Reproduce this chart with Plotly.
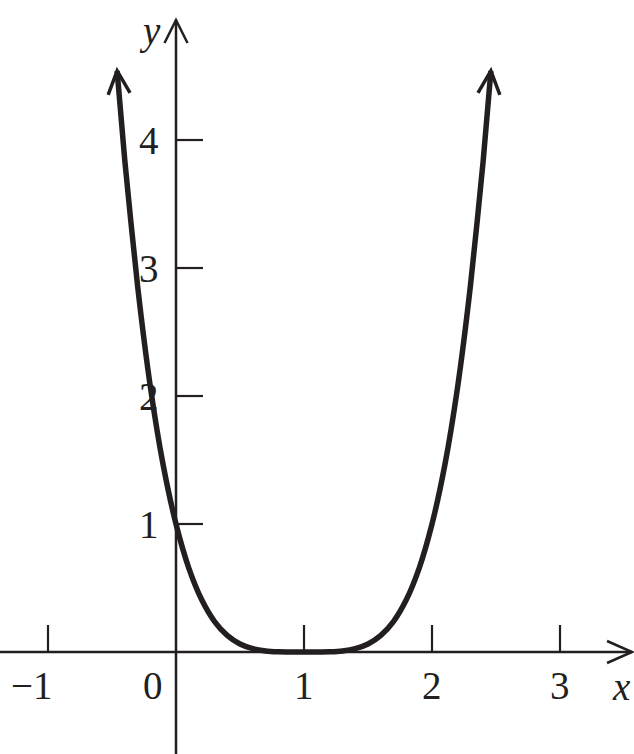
import plotly.graph_objects as go
import numpy as np

# Curve points (y = (x-1)^4 shape)
curve_x = [-0.46, -0.4, -0.3, -0.2, -0.1, 0.0, 0.1, 0.2, 0.3, 0.4, 0.5, 0.6, 0.7, 0.8, 0.9,
           1.0, 1.1, 1.2, 1.3, 1.4, 1.5, 1.6, 1.7, 1.8, 1.9, 2.0, 2.1, 2.2, 2.3, 2.4, 2.46]
curve_y = [4.54, 3.84, 2.86, 2.07, 1.46, 1.0, 0.656, 0.41, 0.24, 0.13, 0.0625, 0.0256, 0.0081, 0.0016, 0.0001,
           0.0, 0.0001, 0.0016, 0.0081, 0.0256, 0.0625, 0.13, 0.24, 0.41, 0.656, 1.0, 1.46, 2.07, 2.86, 3.84, 4.54]

x_ticks = [-1, 1, 2, 3]
x_tick_labels = ["−1", "0", "1", "2", "3"]
x_label_pos = [-1, 0, 1, 2, 3]
y_ticks = [1, 2, 3, 4]
y_tick_labels = ["1", "2", "3", "4"]

XR = [-1.375, 3.578]
YR = [-0.797, 5.094]
U = 1 / 128.0  # data units per pixel (equal on both axes)

fig = go.Figure()
fig.add_trace(go.Scatter(x=curve_x, y=curve_y, mode="lines",
                         line=dict(color="#231f20", width=5.5, shape="spline", smoothing=0.6),
                         hoverinfo="skip"))

shapes = []
col = "#231f20"
x_tip = 632 * U + XR[0]
y_tip = YR[1] - 20 * U
# axes
shapes.append(dict(type="line", x0=XR[0], x1=x_tip, y0=0, y1=0, line=dict(color=col, width=2.5)))
shapes.append(dict(type="line", x0=0, x1=0, y0=YR[0], y1=y_tip, line=dict(color=col, width=2.5)))


def chevron(tx, ty, dx, dy, back, half, width):
    n = np.hypot(dx, dy)
    dx, dy = dx / n, dy / n
    px, py = -dy, dx
    bx, by = tx - dx * back * U, ty - dy * back * U
    a = (bx + px * half * U, by + py * half * U)
    b = (bx - px * half * U, by - py * half * U)
    path = f"M {a[0]},{a[1]} L {tx},{ty} L {b[0]},{b[1]}"
    return dict(type="path", path=path, line=dict(color=col, width=width))

shapes.append(chevron(x_tip, 0, 1, 0, 25, 11, 2.5))
shapes.append(chevron(0, y_tip, 0, 1, 23, 11.5, 2.5))
# curve end arrows
shapes.append(chevron(curve_x[0], curve_y[0], curve_x[0] - curve_x[1], curve_y[0] - curve_y[1], 23, 11, 3.5))
shapes.append(chevron(curve_x[-1], curve_y[-1], curve_x[-1] - curve_x[-2], curve_y[-1] - curve_y[-2], 23, 11, 3.5))

for t in x_ticks:
    shapes.append(dict(type="line", x0=t, x1=t, y0=0, y1=27 * U, line=dict(color=col, width=2.2)))
for t in y_ticks:
    shapes.append(dict(type="line", x0=0, x1=27 * U, y0=t, y1=t, line=dict(color=col, width=2.2)))

font = dict(family="Liberation Serif, Times New Roman, serif", size=39, color=col)
ann = []
for lab, pos in zip(x_tick_labels, x_label_pos):
    if pos < 0:
        ann.append(dict(x=pos + 7 * U, y=-0.258, text=lab, xanchor="right", yanchor="middle",
                        showarrow=False, font=font))
    elif pos == 0:
        ann.append(dict(x=-23 * U, y=-0.258, text=lab, xanchor="center", yanchor="middle",
                        showarrow=False, font=font))
    else:
        ann.append(dict(x=pos, y=-0.258, text=lab, xanchor="center", yanchor="middle",
                        showarrow=False, font=font))
for lab, pos in zip(y_tick_labels, y_ticks):
    ann.append(dict(x=-27 * U, y=pos, text=lab, xanchor="center", yanchor="middle",
                    showarrow=False, font=font))
ann.append(dict(x=-26 * U, y=4.85, text="<i>y</i>", xanchor="center", yanchor="middle",
                showarrow=False, font=font))
ann.append(dict(x=3.48, y=-0.27, text="<i>x</i>", xanchor="center", yanchor="middle",
                showarrow=False, font=font))

fig.update_layout(
    width=634, height=754, margin=dict(l=0, r=0, t=0, b=0),
    paper_bgcolor="white", plot_bgcolor="white", showlegend=False,
    xaxis=dict(range=XR, visible=False, fixedrange=True),
    yaxis=dict(range=YR, visible=False, fixedrange=True),
    shapes=shapes, annotations=ann,
)
fig.write_html("out.html", config={"displayModeBar": False},
               post_script="document.body.style.margin='0';document.body.style.overflow='hidden';")
